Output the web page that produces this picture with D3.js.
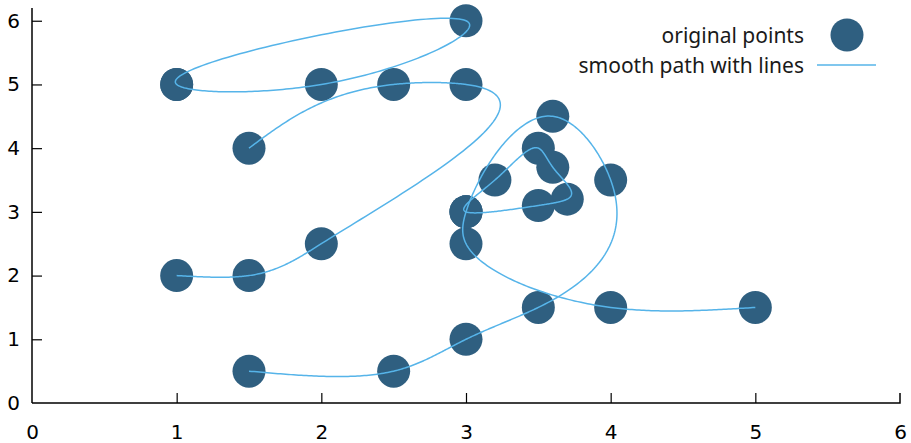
<!DOCTYPE html>
<html><head><meta charset="utf-8">
<script src="https://cdn.jsdelivr.net/npm/d3@7"></script>
<style>body{margin:0;background:#fff}svg{display:block}</style>
</head><body><svg id="c" width="911" height="443"></svg>
<script>
// each path is one data block, points in drawing order
const pathX1 = [1.5, 2.5, 3, 3.5, 4, 3.6, 3, 3, 4, 5];
const pathY1 = [0.5, 0.5, 1, 1.5, 3.5, 4.5, 3, 2.5, 1.5, 1.5];
const pathX2 = [1, 1.5, 2, 3, 2.5, 1.5];
const pathY2 = [2, 2, 2.5, 5, 5, 4];
const pathX3 = [1, 3, 2, 1];
const pathY3 = [5, 6, 5, 5];
const pathX4 = [3, 3.2, 3.5, 3.6, 3.7, 3.5, 3];
const pathY4 = [3, 3.5, 4, 3.7, 3.2, 3.1, 3];
const xTicks = [0, 1, 2, 3, 4, 5, 6];
const yTicks = [0, 1, 2, 3, 4, 5, 6];
const legendLabels = ["original points", "smooth path with lines"];

const paths = [[pathX1, pathY1], [pathX2, pathY2], [pathX3, pathY3], [pathX4, pathY4]]
  .map(([xs, ys]) => xs.map((x, i) => ({x, y: ys[i]})));

// ---- parametric cubic spline (chord-length parameter), periodic when closed ----
function solve(A, b) {
  const n = b.length;
  for (let i = 0; i < n; i++) {
    let p = i;
    for (let r = i + 1; r < n; r++) if (Math.abs(A[r][i]) > Math.abs(A[p][i])) p = r;
    [A[i], A[p]] = [A[p], A[i]]; [b[i], b[p]] = [b[p], b[i]];
    for (let r = i + 1; r < n; r++) {
      const f = A[r][i] / A[i][i];
      for (let c = i; c < n; c++) A[r][c] -= f * A[i][c];
      b[r] -= f * b[i];
    }
  }
  const xs = new Array(n).fill(0);
  for (let i = n - 1; i >= 0; i--) {
    let s = b[i];
    for (let c = i + 1; c < n; c++) s -= A[i][c] * xs[c];
    xs[i] = s / A[i][i];
  }
  return xs;
}
function spline2nd(t, v, closed) {
  const n = v.length, h = d3.range(n - 1).map(i => t[i + 1] - t[i]);
  if (!closed) {
    const M = new Array(n).fill(0);
    if (n > 2) {
      const m = n - 2, A = d3.range(m).map(() => new Array(m).fill(0)), b = new Array(m).fill(0);
      for (let i = 1; i <= n - 2; i++) {
        const r = i - 1;
        if (r > 0) A[r][r - 1] = h[i - 1];
        A[r][r] = 2 * (h[i - 1] + h[i]);
        if (r < m - 1) A[r][r + 1] = h[i];
        b[r] = 6 * ((v[i + 1] - v[i]) / h[i] - (v[i] - v[i - 1]) / h[i - 1]);
      }
      solve(A, b).forEach((s, k) => M[k + 1] = s);
    }
    return M;
  }
  const m = n - 1, A = d3.range(m).map(() => new Array(m).fill(0)), b = new Array(m).fill(0);
  for (let i = 0; i < m; i++) {
    const ip = (i - 1 + m) % m, hp = h[ip], hi = h[i];
    const vp = v[ip], vi = v[i], vn = v[i + 1];
    A[i][ip] += hp; A[i][i] += 2 * (hp + hi); A[i][(i + 1) % m] += hi;
    b[i] = 6 * ((vn - vi) / hi - (vi - vp) / hp);
  }
  const M = solve(A, b); M.push(M[0]);
  return M;
}
function smoothPath(pts, steps = 60) {
  const n = pts.length;
  const closed = n > 2 && pts[0].x === pts[n - 1].x && pts[0].y === pts[n - 1].y;
  const t = [0];
  for (let i = 1; i < n; i++) t.push(t[i - 1] + Math.hypot(pts[i].x - pts[i - 1].x, pts[i].y - pts[i - 1].y));
  const X = pts.map(p => p.x), Y = pts.map(p => p.y);
  const MX = spline2nd(t, X, closed), MY = spline2nd(t, Y, closed);
  const ev = (v, M, i, s) => {
    const h = t[i + 1] - t[i], a = t[i + 1] - s, c = s - t[i];
    return M[i] * a * a * a / (6 * h) + M[i + 1] * c * c * c / (6 * h)
      + (v[i] / h - M[i] * h / 6) * a + (v[i + 1] / h - M[i + 1] * h / 6) * c;
  };
  const out = [];
  for (let i = 0; i < n - 1; i++)
    for (let k = 0; k < steps; k++) {
      const s = t[i] + (t[i + 1] - t[i]) * k / steps;
      out.push({x: ev(X, MX, i, s), y: ev(Y, MY, i, s)});
    }
  out.push(pts[n - 1]);
  return out;
}

const svg = d3.select("#c");
const x = d3.scaleLinear().domain([0, 6]).range([32, 900]);
const y = d3.scaleLinear().domain([0, 6.2]).range([403, 8]);
const ptColor = "#2f5f80", lnColor = "#56b4e9";

// axes
const gx = svg.append("g").attr("transform", `translate(0,${y(0)})`)
  .call(d3.axisBottom(x).tickValues(xTicks).tickSize(-10).tickPadding(22).tickFormat(d3.format("d")));
const gy = svg.append("g").attr("transform", `translate(${x(0)},0)`)
  .call(d3.axisLeft(y).tickValues(yTicks).tickSize(-10).tickPadding(12).tickFormat(d3.format("d")));
[gx, gy].forEach(g => {
  g.select(".domain").attr("stroke", "#000").attr("stroke-width", 1.5);
  g.selectAll(".tick line").attr("stroke", "#000").attr("stroke-width", 1.2);
  g.selectAll(".tick text").attr("font-family", "DejaVu Sans").attr("font-size", 20).attr("fill", "#000");
});
gx.select(".domain").attr("d", `M${x(0)},0H${x(6)}V-10`);
gy.select(".domain").attr("d", `M0,${y(0)}V${y(6.2)}`);
gy.selectAll(".tick").filter(d => d === 0).select("line").remove();
gx.selectAll(".tick").filter(d => d === 0 || d === 6).select("line").remove();

// points
const allPts = paths.flat();
svg.append("g").selectAll("circle").data(allPts).join("circle")
  .attr("cx", d => x(d.x)).attr("cy", d => y(d.y)).attr("r", 16.5).attr("fill", ptColor);

// smooth paths
const line = d3.line().x(d => x(d.x)).y(d => y(d.y));
svg.append("g").selectAll("path").data(paths.map(p => smoothPath(p))).join("path")
  .attr("d", line).attr("fill", "none").attr("stroke", lnColor).attr("stroke-width", 1.5);

// legend
const lg = svg.append("g").attr("font-family", "Noto Sans").attr("font-size", 21).attr("fill", "#1a1a1a");
lg.append("text").attr("x", 804).attr("y", 43).attr("text-anchor", "end").text(legendLabels[0]);
lg.append("text").attr("x", 804).attr("y", 73).attr("text-anchor", "end").text(legendLabels[1]);
lg.append("circle").attr("cx", 847).attr("cy", 35).attr("r", 16.5).attr("fill", ptColor);
lg.append("line").attr("x1", 817).attr("x2", 876).attr("y1", 65).attr("y2", 65).attr("stroke", lnColor).attr("stroke-width", 1.5);
</script></body></html>
